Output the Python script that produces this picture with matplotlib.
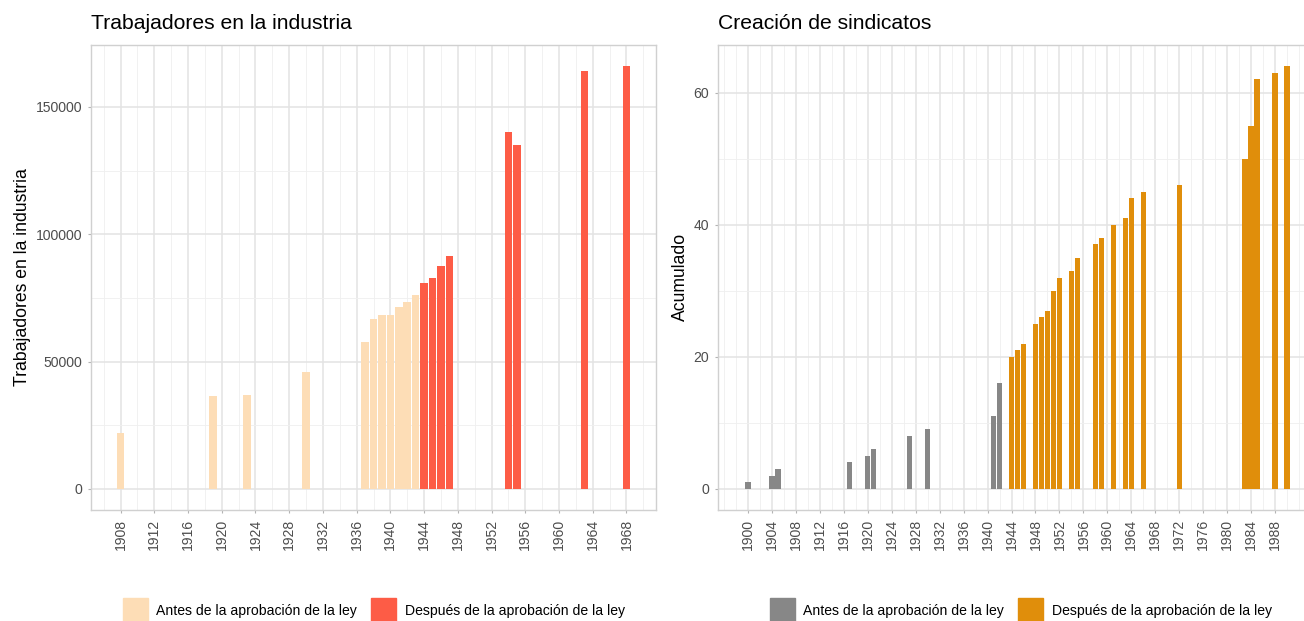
import matplotlib
matplotlib.use("Agg")
import matplotlib.pyplot as plt
from matplotlib.patches import Patch

plt.rcParams['font.family'] = ['Liberation Sans', 'DejaVu Sans']

# Trabajadores en la industria
trab_anios_antes = [1908, 1919, 1923, 1930, 1937, 1938, 1939, 1940, 1941, 1942, 1943]
trab_antes = [22000, 36500, 37000, 46000, 57800, 66800, 68100, 68100, 71500, 73400, 76100]
trab_anios_despues = [1944, 1945, 1946, 1947, 1954, 1955, 1963, 1968]
trab_despues = [80800, 82800, 87500, 91600, 140200, 135000, 164200, 166000]

# Creacion de sindicatos (acumulado)
sind_anios_antes = [1900, 1904, 1905, 1917, 1920, 1921, 1927, 1930, 1941, 1942]
sind_antes = [1, 2, 3, 4, 5, 6, 8, 9, 11, 16]
sind_anios_despues = [1944, 1945, 1946, 1948, 1949, 1950, 1951, 1952, 1954, 1955, 1958,
                      1959, 1961, 1963, 1964, 1966, 1972, 1983, 1984, 1985, 1988, 1990]
sind_despues = [20, 21, 22, 25, 26, 27, 30, 32, 33, 35, 37,
                38, 40, 41, 44, 45, 46, 50, 55, 62, 63, 64]

etiquetas = ['Antes de la aprobación de la ley', 'Después de la aprobación de la ley']

W, H = 1304, 621
fig = plt.figure(figsize=(W / 100, H / 100), dpi=100)


def px_box(x0, y0, x1, y1):
    return [x0 / W, 1 - y1 / H, (x1 - x0) / W, (y1 - y0) / H]


def style_axes(ax, xticks, xminor, yticks, yminor):
    ax.set_xticks(xticks)
    ax.set_xticks(xminor, minor=True)
    ax.set_yticks(yticks)
    ax.set_yticks(yminor, minor=True)
    ax.tick_params(axis='x', labelrotation=90)
    ax.tick_params(which='major', length=2.5, width=0.8, color='#B3B3B3',
                   labelsize=10.1, labelcolor='#4D4D4D', pad=4)
    ax.tick_params(which='minor', length=0)
    ax.grid(which='major', color='#E3E3E3', linewidth=1.1)
    ax.grid(which='minor', color='#EFEFEF', linewidth=0.6)
    ax.set_axisbelow(True)
    for s in ax.spines.values():
        s.set_color('#D0D0D0')
        s.set_linewidth(1.0)


# left panel
ax1 = fig.add_axes(px_box(91, 45, 656, 510))
ax1.bar(trab_anios_antes, trab_antes, width=0.9, color='#FDDDB6')
ax1.bar(trab_anios_despues, trab_despues, width=0.9, color='#FD5C46')
ax1.set_xlim(1904.5, 1971.5)
ax1.set_ylim(-8300, 174300)
style_axes(ax1, range(1908, 1969, 4), range(1906, 1971, 4),
           [0, 50000, 100000, 150000], [25000, 75000, 125000])
fig.text(91 / W, 1 - 29 / H, 'Trabajadores en la industria', fontsize=15.2, va='baseline')
fig.text(23 / W, 1 - 277 / H, 'Trabajadores en la industria', fontsize=12.7,
         rotation=90, ha='center', va='center')

# right panel (runs off the right edge, as in the original)
ax2 = fig.add_axes(px_box(718, 45, 1317, 510))
ax2.bar(sind_anios_antes, sind_antes, width=0.9, color='#878787')
ax2.bar(sind_anios_despues, sind_despues, width=0.9, color='#E08E0B')
ax2.set_xlim(1895, 1995)
ax2.set_ylim(-3.2, 67.2)
style_axes(ax2, range(1900, 1989, 4), [1896] + list(range(1898, 1995, 4)) + [1992],
           [0, 20, 40, 60], [10, 30, 50])
fig.text(718 / W, 1 - 29 / H, 'Creación de sindicatos', fontsize=15.2, va='baseline')
fig.text(680 / W, 1 - 277 / H, 'Acumulado', fontsize=12.7,
         rotation=90, ha='center', va='center')

# legends at the bottom, cut by the lower edge like the original
for x0, colores in [(123, ['#FDDDB6', '#FD5C46']), (770, ['#878787', '#E08E0B'])]:
    handles = [Patch(color=c) for c in colores]
    fig.legend(handles, etiquetas, loc='upper left', bbox_to_anchor=(x0 / W, 1 - 598 / H),
               ncol=2, frameon=False, fontsize=10.1, handlelength=1.78, handleheight=2.4,
               handletextpad=0.6, columnspacing=1.0, borderpad=0, borderaxespad=0)

fig.savefig('out.png', dpi=100)
